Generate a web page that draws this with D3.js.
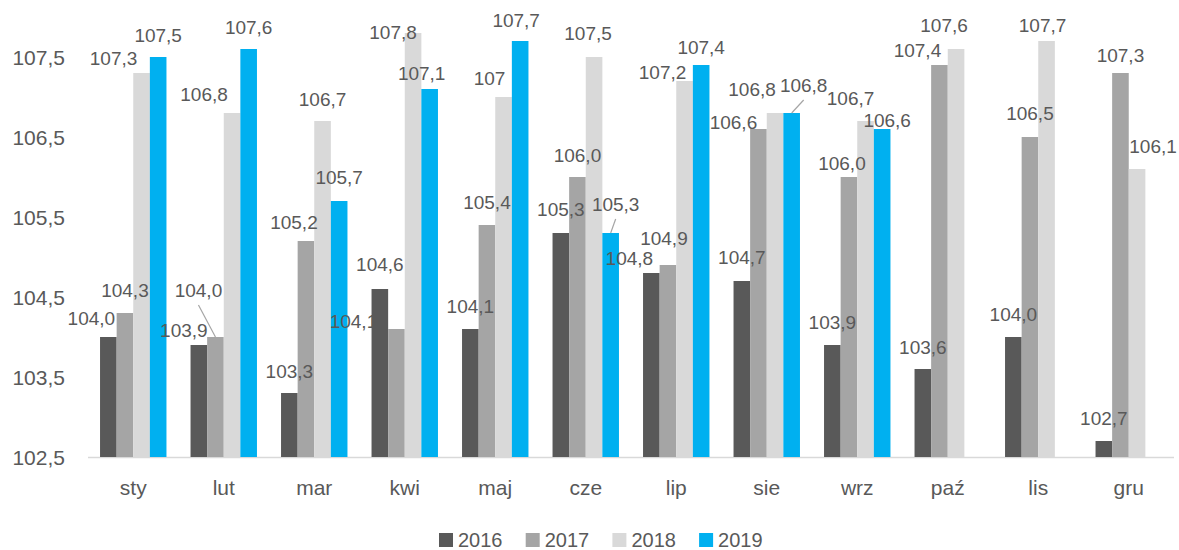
<!DOCTYPE html>
<html><head><meta charset="utf-8">
<script src="https://cdn.jsdelivr.net/npm/d3@7/dist/d3.min.js"></script>
<style>
html,body{margin:0;padding:0;background:#fff;}
svg{display:block;}
text{font-family:"Liberation Sans",Arial,sans-serif;fill:#595959;}
</style></head>
<body><svg id="c" width="1179" height="550"></svg>
<script>
// ---- data ----
const months = ["sty","lut","mar","kwi","maj","cze","lip","sie","wrz","paź","lis","gru"];
const seriesNames = ["2016","2017","2018","2019"];
const v2016 = [104.0,103.9,103.3,104.6,104.1,105.3,104.8,104.7,103.9,103.6,104.0,102.7];
const v2017 = [104.3,104.0,105.2,104.1,105.4,106.0,104.9,106.6,106.0,107.4,106.5,107.3];
const v2018 = [107.3,106.8,106.7,107.8,107.0,107.5,107.2,106.8,106.7,107.6,107.7,106.1];
const v2019 = [107.5,107.6,105.7,107.1,107.7,105.3,107.4,106.8,106.6,null,null,null];
const yTicks = [102.5,103.5,104.5,105.5,106.5,107.5];
const labelOverride = {"2018|maj":"107"};

// ---- label placement (layout, relative to bar top centre) ----
const labelOffsets = {
  "2016":[[-17,-19],[-15,-15],[0,-22],[0,-25],[0,-23],[0,-24],[-22,-15],[0,-24],[0,-23],[0,-22],[0,-23],[0,-23]],
  "2017":[[0,-23],[-17,-47],[-12,-19],[-43,-8],[0,-23],[0,-22],[-4,-27],[-25,-7],[-7,-14],[-22,-15],[0,-24],[0,-18]],
  "2018":[[-28,-15],[-28,-19],[0,-22],[-20,-1],[-14,-19],[-6,-24],[-22,-9],[-23,-24],[-15,-23],[-12,-24],[-4,-16],[16,-23]],
  "2019":[[0,-22],[0,-22],[0,-24],[-8,-16],[-4,-21],[5,-29],[0,-18],[12,-28],[5,-9],[0,-22],[0,-22],[0,-22]]
};
const leaders = {"2017|lut":true,"2019|cze":true,"2019|sie":true};
const colors = {"2016":"#595959","2017":"#a5a5a5","2018":"#d9d9d9","2019":"#00b0f0"};

const seriesValues = {"2016":v2016,"2017":v2017,"2018":v2018,"2019":v2019};
const svg = d3.select("#c");
const pLeft = 88, pRight = 1174, pTop = 57, pBottom = 457;

const x0 = d3.scaleBand().domain(months).range([pLeft, pRight]).paddingInner(0).paddingOuter(0);
const groupW = x0.bandwidth()*0.734;
const x1 = d3.scaleBand().domain(seriesNames).range([0, groupW]).padding(0);
const y = d3.scaleLinear().domain([102.5,107.5]).range([pBottom, pTop]);
const fmt = v => d3.format(".1f")(v).replace(".", ",");
const gx = m => x0(m) + (x0.bandwidth()-groupW)/2;

// y axis labels
svg.append("g").selectAll("text").data(yTicks).join("text")
  .attr("x", 65).attr("y", d => y(d)).attr("text-anchor","end")
  .attr("dominant-baseline","central").style("font-size","21px")
  .text(d => fmt(d));

// axis line
svg.append("line").attr("x1",pLeft).attr("x2",pRight).attr("y1",pBottom+0.5).attr("y2",pBottom+0.5)
  .attr("stroke","#d9d9d9").attr("stroke-width",1.5);

// bars
const flat = [];
seriesNames.forEach(s => months.forEach((m,i) => {
  const v = seriesValues[s][i];
  if (v != null) flat.push({s, m, i, v});
}));
svg.append("g").selectAll("rect").data(flat).join("rect")
  .attr("x", d => gx(d.m) + x1(d.s))
  .attr("width", x1.bandwidth())
  .attr("y", d => y(d.v))
  .attr("height", d => pBottom - y(d.v))
  .attr("fill", d => colors[d.s]);

// leader lines
svg.append("g").selectAll("line").data(flat.filter(d => leaders[d.s+"|"+d.m])).join("line")
  .attr("x1", d => gx(d.m)+x1(d.s)+x1.bandwidth()/2 + labelOffsets[d.s][d.i][0])
  .attr("y1", d => y(d.v) + labelOffsets[d.s][d.i][1] + 15)
  .attr("x2", d => gx(d.m)+x1(d.s)+x1.bandwidth()/2)
  .attr("y2", d => y(d.v))
  .attr("stroke","#a5a5a5").attr("stroke-width",1.2);

// data labels
svg.append("g").selectAll("text").data(flat).join("text")
  .attr("x", d => gx(d.m)+x1(d.s)+x1.bandwidth()/2 + labelOffsets[d.s][d.i][0])
  .attr("y", d => y(d.v) + labelOffsets[d.s][d.i][1])
  .attr("text-anchor","middle").attr("dominant-baseline","central")
  .style("font-size","19px")
  .text(d => labelOverride[d.s+"|"+d.m] || fmt(d.v));

// x labels
svg.append("g").selectAll("text").data(months).join("text")
  .attr("x", m => x0(m)+x0.bandwidth()/2).attr("y", 495)
  .attr("text-anchor","middle").style("font-size","21px").text(m => m);

// legend
const lg = svg.append("g").selectAll("g").data(seriesNames).join("g")
  .attr("transform", (d,i) => `translate(${439 + i*86.7},533)`);
lg.append("rect").attr("width",14).attr("height",14).attr("fill", d => colors[d]);
lg.append("text").attr("x",19).attr("y",7).attr("dominant-baseline","central")
  .style("font-size","20px").text(d => d);
</script></body></html>
